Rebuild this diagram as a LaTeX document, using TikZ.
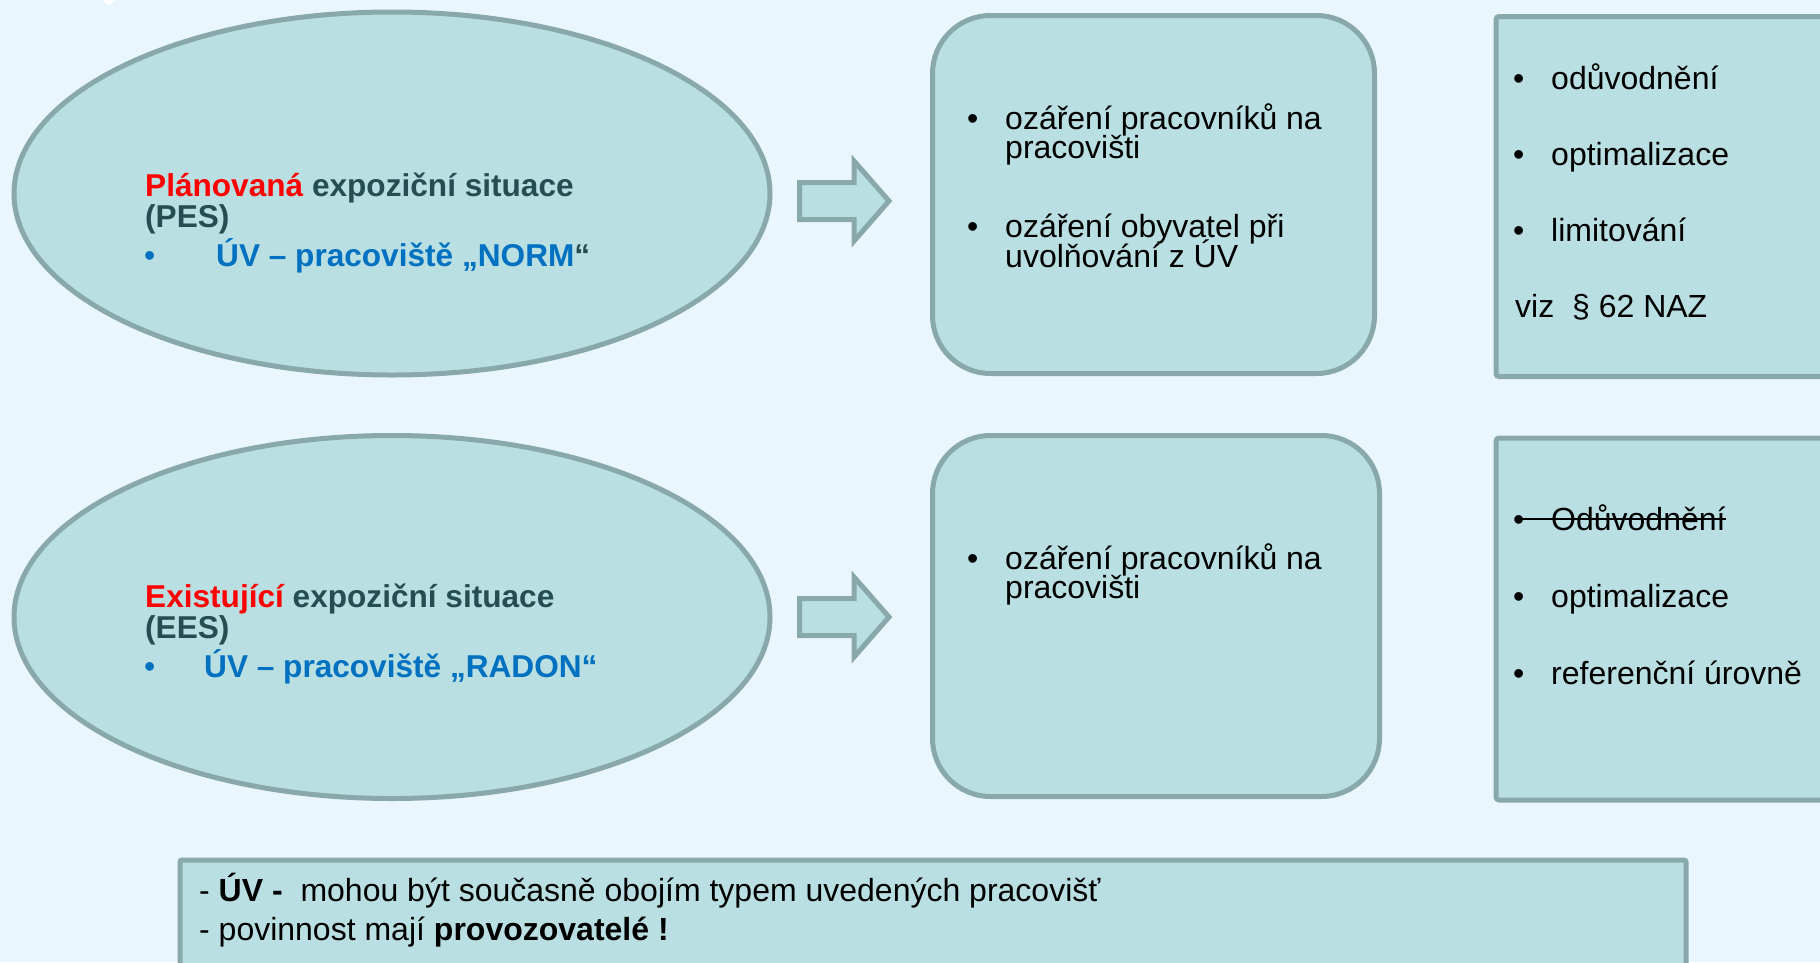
\documentclass[tikz,border=0pt]{standalone}
\usepackage{fontspec}
\setmainfont{Liberation Sans}
\usetikzlibrary{shapes.geometric}
\definecolor{bg}{HTML}{EAF6FE}
\definecolor{boxfill}{HTML}{B9DFE2}
\definecolor{border}{HTML}{88A8A9}
\definecolor{dark}{HTML}{264E52}
\definecolor{ublue}{HTML}{0070C0}
\definecolor{ured}{HTML}{FF0000}
\begin{document}
\begin{tikzpicture}[x=1pt,y=-1pt,
  shapebox/.style={draw=border, fill=boxfill, line width=5pt},
  txt/.style={anchor=base west, inner sep=0pt, font=\fontsize{32}{38}\selectfont},
  btxt/.style={txt, font=\fontsize{31.6}{38}\selectfont\bfseries}]
\useasboundingbox (0,0) rectangle (1820,962);
\fill[bg] (0,0) rectangle (1820,962);
\fill[white] (102,0) -- (116,0) -- (109,5) -- cycle;

% ellipses
\node[shapebox, ellipse, minimum width=756pt, minimum height=363pt, inner sep=0pt] (e1) at (392,193.5) {};
\node[shapebox, ellipse, minimum width=756pt, minimum height=363pt, inner sep=0pt] (e2) at (392,617) {};

% block arrows
\draw[shapebox, line join=miter] (799.5,182.5) -- (854,182.5) -- (854,161) -- (889,201) -- (854,241) -- (854,219.5) -- (799.5,219.5) -- cycle;
\draw[shapebox, line join=miter] (799.5,598.5) -- (854,598.5) -- (854,577) -- (889,617) -- (854,657) -- (854,635.5) -- (799.5,635.5) -- cycle;

% rounded boxes
\node[shapebox, rounded corners=58pt, minimum width=442pt, minimum height=358pt, anchor=north west, inner sep=0pt] (b1) at (930,13) {};
\node[shapebox, rounded corners=58pt, minimum width=447pt, minimum height=361pt, anchor=north west, inner sep=0pt] (b2) at (930,433) {};

% right boxes
\node[shapebox, rounded corners=3pt, minimum width=347pt, minimum height=360pt, anchor=north west, inner sep=0pt] (r1) at (1493.5,14) {};
\node[shapebox, rounded corners=3pt, minimum width=347pt, minimum height=362pt, anchor=north west, inner sep=0pt] (r2) at (1493.5,435.5) {};

% bottom box
\node[shapebox, rounded corners=2pt, minimum width=1506pt, minimum height=160pt, anchor=north west, inner sep=0pt] (bb) at (177.5,857.5) {};

% ellipse 1 text
\node[btxt, text=dark] (t1a) at (145,196) {\textcolor{ured}{Plánovaná} expoziční situace};
\node[btxt, text=dark] (t1b) at (145,227) {(PES)};
\node[txt, text=ublue] (t1c) at (144,266) {•};
\node[btxt, text=ublue] (t1d) at (216,266) {ÚV – pracoviště „NORM\textcolor{dark}{“}};

% ellipse 2 text
\node[btxt, text=dark] (t2a) at (145,607) {\textcolor{ured}{Existující} expoziční situace};
\node[btxt, text=dark] (t2b) at (145,638) {(EES)};
\node[txt, text=ublue] (t2c) at (144,677) {•};
\node[btxt, text=ublue] (t2d) at (204,677) {ÚV – pracoviště „RADON“};

% box 1 text
\node[txt] (m1a) at (967,129) {•};
\node[txt] (m1b) at (1005,129) {ozáření pracovníků na};
\node[txt] (m1c) at (1005,158) {pracovišti};
\node[txt] (m1d) at (967,237) {•};
\node[txt] (m1e) at (1005,237) {ozáření obyvatel při};
\node[txt] (m1f) at (1005,267) {uvolňování z ÚV};

% box 2 text
\node[txt] (m2a) at (967,569) {•};
\node[txt] (m2b) at (1005,569) {ozáření pracovníků na};
\node[txt] (m2c) at (1005,598) {pracovišti};

% right box 1 text
\node[txt] (r1a) at (1513,89) {•};
\node[txt] (r1b) at (1551,89) {odůvodnění};
\node[txt] (r1c) at (1513,165) {•};
\node[txt] (r1d) at (1551,165) {optimalizace};
\node[txt] (r1e) at (1513,241) {•};
\node[txt] (r1f) at (1551,241) {limitování};
\node[txt] (r1g) at (1515,317) {viz\ \ § 62 NAZ};

% right box 2 text
\node[txt] (r2a) at (1513,530) {•};
\node[txt] (r2b) at (1551,530) {Odůvodnění};
\draw[line width=2pt] (1515,519) -- (r2b.east |- 0,519);
\node[txt] (r2c) at (1513,607) {•};
\node[txt] (r2d) at (1551,607) {optimalizace};
\node[txt] (r2e) at (1513,684) {•};
\node[txt] (r2f) at (1551,684) {referenční úrovně};

% bottom text
\node[txt] (n1) at (199,901) {- \textbf{ÚV -}\ \ mohou být současně obojím typem uvedených pracovišť};
\node[txt] (n2) at (199,940) {- povinnost mají \textbf{provozovatelé !}};
\end{tikzpicture}
\end{document}
